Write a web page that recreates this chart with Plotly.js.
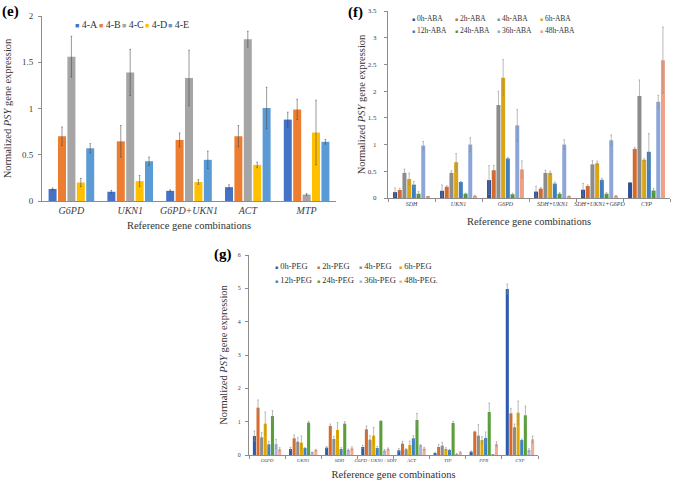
<!DOCTYPE html>
<html>
<head>
<meta charset="utf-8">
<script src="https://cdn.plot.ly/plotly-3.0.1.min.js"></script>
<style>
  body { margin: 0; background: #fff; }
  #chart { width: 673px; height: 486px; }
</style>
</head>
<body>
<div id="chart"></div>
<script>
// ---- panel (e) ----
const eCats = ['G6PD', 'UKN1', 'G6PD+UKN1', 'ACT', 'MTP'];
const eNames = ['4-A', '4-B', '4-C', '4-D', '4-E'];
const eColors = ['#4472C4', '#ED7D31', '#A5A5A5', '#FFC000', '#5B9BD5'];
const eVals = [
    [0.13, 0.10, 0.11, 0.15, 0.88],
    [0.70, 0.645, 0.66, 0.70, 0.99],
    [1.56, 1.39, 1.33, 1.75, 0.07],
    [0.20, 0.215, 0.205, 0.39, 0.74],
    [0.57, 0.43, 0.445, 1.005, 0.64]
];
const eErrs = [
    [0.01, 0.015, 0.01, 0.025, 0.08],
    [0.10, 0.17, 0.075, 0.115, 0.11],
    [0.22, 0.25, 0.30, 0.085, 0.01],
    [0.045, 0.06, 0.025, 0.03, 0.35],
    [0.05, 0.045, 0.095, 0.225, 0.025]
];

// ---- panel (f) ----
const fCats = ['SDH', 'UKN1', 'G6PD', 'SDH+UKN1', 'SDH+UKN1+G6PD', 'CYP'];
const fNames = ['0h-ABA', '2h-ABA', '4h-ABA', '6h-ABA', '12h-ABA', '24h-ABA', '36h-ABA', '48h-ABA'];
const fColors = ['#2E4E96', '#D2692D', '#8C8C8C', '#D9A514', '#3F7FBF', '#4E9A3B', '#8DA6D9', '#EFA184'];
const fVals = [
    [0.11, 0.135, 0.335, 0.12, 0.155, 0.29],
    [0.15, 0.21, 0.52, 0.175, 0.225, 0.92],
    [0.47, 0.47, 1.74, 0.47, 0.63, 1.91],
    [0.355, 0.67, 2.25, 0.47, 0.65, 0.715],
    [0.25, 0.30, 0.74, 0.27, 0.34, 0.865],
    [0.08, 0.08, 0.07, 0.08, 0.08, 0.14],
    [0.98, 1.0, 1.36, 1.0, 1.08, 1.80],
    [0.02, 0.04, 0.535, 0.03, 0.04, 2.58]
];
const fErrs = [
    [0.08, 0.11, 0.27, 0.10, 0.12, 0],
    [0.03, 0.02, 0.09, 0.02, 0.02, 0.03],
    [0.07, 0.04, 0.26, 0.05, 0.07, 0.30],
    [0.11, 0.16, 0.34, 0.03, 0.04, 0.02],
    [0.06, 0.01, 0.02, 0.03, 0.03, 0.34],
    [0.04, 0.01, 0.02, 0.02, 0.02, 0.04],
    [0.08, 0.13, 0.30, 0.09, 0.10, 0.12],
    [0.01, 0.01, 0.16, 0.01, 0.01, 0.62]
];

// ---- panel (g) ----
const gCats = ['G6PD', 'UKN1', 'SDH', 'G6PD+UKN1+SDH', 'ACT', 'TIP', 'PPR', 'CYP'];
const gNames = ['0h-PEG', '2h-PEG', '4h-PEG', '6h-PEG', '12h-PEG', '24h-PEG', '36h-PEG', '48h-PEG.'];
const gColors = ['#2E5AAC', '#D86B2C', '#8E8E8E', '#E0A800', '#3E82C0', '#5A9E3A', '#A3B5E6', '#F3AB92'];
const gVals = [
    [0.57, 0.18, 0.22, 0.24, 0.14, 0.06, 0.10, 4.98],
    [1.42, 0.50, 0.87, 0.77, 0.34, 0.24, 0.70, 1.25],
    [0.53, 0.40, 0.48, 0.46, 0.17, 0.28, 0.58, 0.83],
    [0.94, 0.37, 0.75, 0.58, 0.30, 0.18, 0.45, 1.27],
    [0.32, 0.21, 0.18, 0.21, 0.50, 0.15, 0.51, 0.45],
    [1.17, 0.97, 0.94, 1.02, 1.05, 0.96, 1.29, 1.19],
    [0.33, 0.08, 0.15, 0.13, 0.29, 0.03, 0.01, 0.15],
    [0.17, 0.15, 0.20, 0.18, 0.19, 0.08, 0.33, 0.47]
];
const gErrs = [
    [0.15, 0.05, 0.03, 0.05, 0.05, 0.02, 0.02, 0.15],
    [0.23, 0.10, 0.06, 0.10, 0.07, 0.08, 0.02, 0.15],
    [0.14, 0.12, 0.08, 0.12, 0.02, 0.10, 0.33, 0.10],
    [0.35, 0.20, 0.22, 0.25, 0.12, 0.04, 0.10, 0.35],
    [0.09, 0.01, 0.04, 0.05, 0.08, 0.02, 0.18, 0.03],
    [0.16, 0.04, 0.06, 0.01, 0.20, 0.05, 0.27, 0.28],
    [0.14, 0.01, 0.03, 0.03, 0.02, 0.01, 0, 0.04],
    [0.05, 0.02, 0.05, 0.03, 0.04, 0.02, 0.07, 0.10]
];

const W = 673, H = 486;
const px = v => v / W;
const py = v => 1 - v / H;
const serif = '"Liberation Serif", "Times New Roman", "DejaVu Serif", serif';

function barTraces(cats, names, colors, vals, errs, xa, ya, errColor) {
    return names.map((name, i) => ({
        type: 'bar',
        name: name,
        x: cats,
        y: vals[i],
        xaxis: xa,
        yaxis: ya,
        marker: {color: colors[i]},
        error_y: {type: 'data', array: errs[i], visible: true, color: errColor, thickness: 1, width: 0.8},
        hoverinfo: 'x+y+name'
    }));
}

// legend drawn as text rows of coloured squares
function legendAnns(names, colors, xs, ys, size, sqSize) {
    return names.map((name, i) => ({
        xref: 'paper', yref: 'paper',
        x: px(xs[i % xs.length]), y: py(ys[Math.floor(i / xs.length)]),
        xanchor: 'left', yanchor: 'middle',
        showarrow: false,
        text: '<span style="color:' + colors[i] + ';font-size:' + sqSize + 'px">■</span> ' + name,
        font: {family: serif, size: size, color: '#333'}
    }));
}

function panelLabel(txt, x, y) {
    return {
        xref: 'paper', yref: 'paper', x: px(x), y: py(y),
        xanchor: 'left', yanchor: 'top', showarrow: false,
        text: '<b>' + txt + '</b>',
        font: {family: serif, size: 15, color: '#000'}
    };
}

const traces = []
    .concat(barTraces(eCats, eNames, eColors, eVals, eErrs, 'x', 'y', 'rgba(70,70,70,0.55)'))
    .concat(barTraces(fCats, fNames, fColors, fVals, fErrs, 'x2', 'y2', 'rgba(140,140,140,0.6)'))
    .concat(barTraces(gCats, gNames, gColors, gVals, gErrs, 'x3', 'y3', 'rgba(140,140,140,0.6)'));

const axisLine = '#8c8c8c';
const xBase = {
    type: 'category', showline: true, linecolor: axisLine, linewidth: 1,
    showgrid: false, zeroline: false, fixedrange: true, tickangle: 0
};
const yBase = {
    showline: true, linecolor: axisLine, linewidth: 1, showgrid: false, zeroline: false,
    ticks: 'outside', ticklen: 3, tickcolor: axisLine, fixedrange: true
};
const yTitle = 'Normalized <i>PSY</i> gene expression';
const xTitle = 'Reference gene combinations';
const titleFont = {family: serif, size: 10.5, color: '#333'};

const layout = {
    width: W, height: H,
    margin: {l: 0, r: 0, t: 0, b: 0},
    paper_bgcolor: '#fff', plot_bgcolor: '#fff',
    font: {family: serif, color: '#333'},
    barmode: 'group', bargap: 0.2, bargroupgap: 0.15,
    showlegend: false,
    xaxis: Object.assign({}, xBase, {
        domain: [px(42), px(336)], anchor: 'y',
        tickfont: {family: serif, size: 10, style: 'italic', color: '#404040'},
        ticks: '',
        title: {text: xTitle, font: titleFont, standoff: 6}
    }),
    yaxis: Object.assign({}, yBase, {
        domain: [py(201), py(16)], anchor: 'x', range: [0, 2], dtick: 0.5,
        tickfont: {family: serif, size: 9, color: '#404040'}, ticklabelstandoff: 3,
        title: {text: yTitle, font: titleFont, standoff: 8}
    }),
    xaxis2: Object.assign({}, xBase, {
        domain: [px(388), px(670)], anchor: 'y2',
        tickfont: {family: serif, size: 6, style: 'italic', color: '#404040'},
        ticks: 'outside', tickson: 'boundaries', ticklen: 3, tickcolor: axisLine,
        title: {text: xTitle, font: titleFont, standoff: 11}
    }),
    yaxis2: Object.assign({}, yBase, {
        domain: [py(198), py(11)], anchor: 'x2', range: [0, 3.5], dtick: 0.5,
        tickfont: {family: serif, size: 7, color: '#404040'}, ticklabelstandoff: 6,
        title: {text: yTitle, font: titleFont, standoff: 0}
    }),
    xaxis3: Object.assign({}, xBase, {
        domain: [px(249), px(538)], anchor: 'y3',
        tickfont: {family: serif, size: 5, style: 'italic', color: '#404040'},
        ticks: 'outside', tickson: 'boundaries', ticklen: 3, tickcolor: axisLine,
        title: {text: xTitle, font: titleFont, standoff: 8}
    }),
    yaxis3: Object.assign({}, yBase, {
        domain: [py(455), py(255)], anchor: 'x3', range: [0, 6], dtick: 1,
        tickfont: {family: serif, size: 6, color: '#404040'}, ticklabelstandoff: 3,
        title: {text: yTitle, font: titleFont, standoff: 8}
    }),
    annotations: [
        panelLabel('(e)', 0, 1),
        panelLabel('(f)', 346, 2),
        panelLabel('(g)', 212, 244)
    ]
    .concat(legendAnns(eNames, eColors, [73, 96.5, 119.5, 143, 166], [24], 10, 7))
    .concat(legendAnns(fNames, fColors, [410, 453, 495, 538], [19, 31], 7.5, 5))
    .concat(legendAnns(gNames, gColors, [273, 315, 357, 397], [266, 280], 8.5, 5))
};

Plotly.newPlot('chart', traces, layout, {displayModeBar: false, responsive: false});
</script>
</body>
</html>
